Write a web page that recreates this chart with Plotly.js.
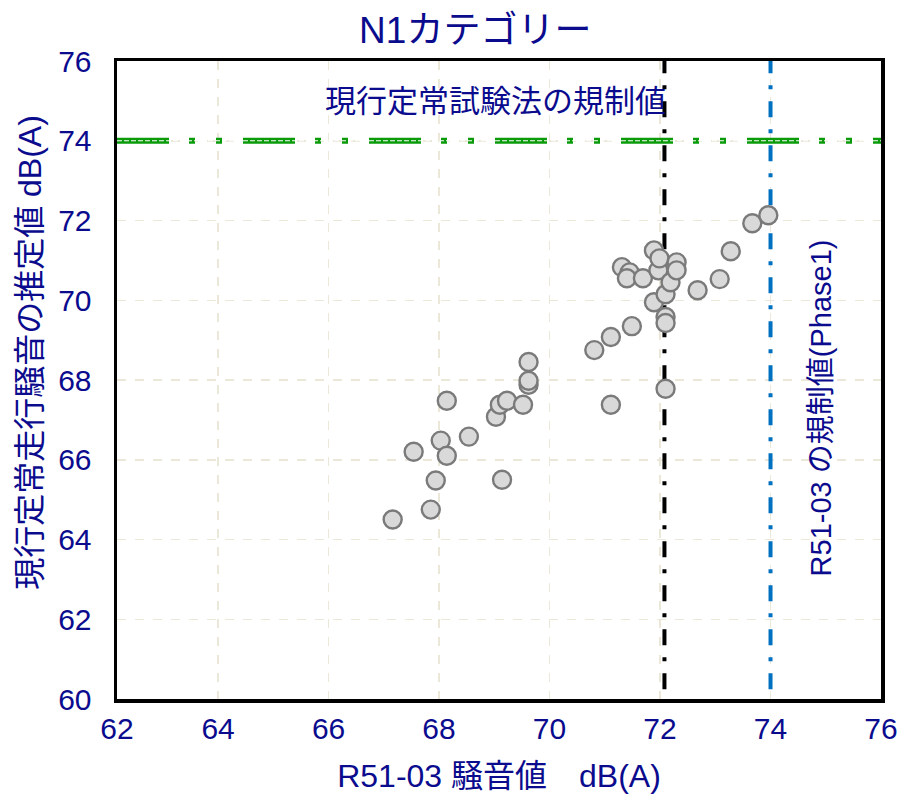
<!DOCTYPE html>
<html><head><meta charset="utf-8">
<script src="https://cdn.plot.ly/plotly-3.0.1.min.js"></script>
<style>body{margin:0;background:#fff}#c{width:914px;height:808px}</style>
</head><body><div id="c"></div>
<script>
const xVals = [67.16,67.85,67.54,67.94,68.03,68.14,68.14,68.54,69.03,69.14,69.10,69.23,69.52,69.62,69.62,69.62,70.81,71.11,71.11,71.49,71.31,71.45,71.40,71.69,71.89,71.89,71.97,71.99,72.10,72.10,72.10,72.10,72.19,72.30,72.30,72.68,73.08,73.28,73.67,73.96];
const yVals = [64.50,64.75,66.20,65.48,66.48,66.10,67.48,66.58,67.08,65.50,67.38,67.48,67.38,67.88,67.98,68.45,68.75,67.38,69.08,69.35,70.83,70.70,70.55,70.55,71.25,69.95,70.75,71.05,67.78,69.58,69.43,70.15,70.45,70.95,70.75,70.25,70.53,71.23,71.93,72.13];
const xTicks = [62.17,64,66,68,70,72,74,76];
const xTickText = ['62','64','66','68','70','72','74','76'];
const yTicks = [60,62,64,66,68,70,72,74,76];
const currentLimit = 74;   // 現行定常試験法の規制値
const r51Limit = 74;       // R51-03 の規制値(Phase1)
const blackLine = 72.08;
const xRange = [62.17, 76];
const yRange = [60, 76];
const navy = '#0b0b8e';
const latin = 'Liberation Sans Narrow, Arial Narrow, Liberation Sans, Noto Sans CJK JP, sans-serif';

const dashDot = '16px,12px,4px,12px';
const data = [
  {type:'scatter', mode:'lines', x:[blackLine, blackLine], y:[76.093, 59.8],
   line:{color:'#000', width:4, dash:dashDot}, hoverinfo:'skip'},
  {type:'scatter', mode:'lines', x:[r51Limit, r51Limit], y:[76.093, 59.8],
   line:{color:'#0070c0', width:4, dash:dashDot}, hoverinfo:'skip'},
  {type:'scatter', mode:'lines', x:[xRange[0], xRange[1]], y:[currentLimit, currentLimit],
   line:{color:'#0a9a0a', width:6, dash:'52px,20px,6px,21px,6px,21px'}, hoverinfo:'skip'},
  {type:'scatter', mode:'lines', x:[xRange[0], xRange[1]], y:[currentLimit, currentLimit],
   line:{color:'#ffffff', width:1.2, dash:'5px,2px'}, hoverinfo:'skip'},
  {type:'scatter', mode:'markers', x:xVals, y:yVals,
   marker:{size:18, color:'#d9d9d9', line:{color:'#7a7a7a', width:2.4}},
   hoverinfo:'skip', cliponaxis:false}
];

const layout = {
  width:914, height:808,
  margin:{l:117, r:33, t:61, b:109},
  paper_bgcolor:'#fff', plot_bgcolor:'#fff',
  showlegend:false,
  font:{family:latin, color:navy},
  title:{text:'N1カテゴリー', x:0.52, xanchor:'center', y:0.963, yanchor:'middle',
         font:{size:37, color:navy, family:latin}},
  xaxis:{range:xRange, tickvals:xTicks, ticktext:xTickText,
    showgrid:true, gridcolor:'#ebe8da', griddash:'dash', gridwidth:1.5,
    zeroline:false, showline:true, linecolor:'#000', linewidth:3.5, mirror:true,
    ticks:'', tickfont:{size:30, color:navy, family:latin}, ticklabelstandoff:0,
    title:{text:'R51-03 騒音値　dB(A)', font:{size:32, color:navy, family:latin}, standoff:22}},
  yaxis:{range:yRange, tickvals:yTicks, ticktext:yTicks.map(String),
    showgrid:true, gridcolor:'#ebe8da', griddash:'dash', gridwidth:1.5,
    zeroline:false, showline:true, linecolor:'#000', linewidth:3.5, mirror:true,
    ticks:'', tickfont:{size:30, color:navy, family:latin}, ticklabelstandoff:16},
  annotations:[
    {text:'現行定常走行騒音の推定値 dB(A)', xref:'paper', yref:'paper', x:-0.114, y:0.544,
     textangle:-90, showarrow:false, font:{size:32, color:navy, family:latin}, xanchor:'center', yanchor:'middle'},
    {text:'現行定常試験法の規制値', xref:'paper', yref:'paper', x:0.496, y:0.936,
     showarrow:false, font:{size:31, color:navy, family:latin}, xanchor:'center', yanchor:'middle'},
    {text:'R51-03 の規制値(Phase1)', xref:'x', yref:'paper', x:74.92, y:0.456,
     textangle:-90, showarrow:false, font:{size:29, color:navy, family:latin}, xanchor:'center', yanchor:'middle'}
  ]
};
Plotly.newPlot('c', data, layout, {displayModeBar:false, staticPlot:true});
</script></body></html>
